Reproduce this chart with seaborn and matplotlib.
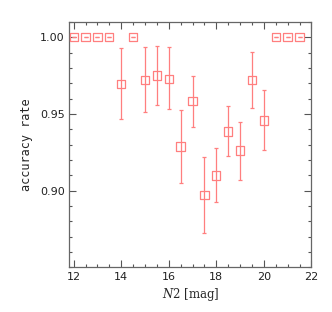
import numpy as np
import pandas as pd
import seaborn as sns
import matplotlib
matplotlib.use('Agg')
import matplotlib.pyplot as plt
from matplotlib.ticker import MultipleLocator, FixedLocator

# 数据：星等与准确率
mag = [12.0, 12.5, 13.0, 13.5, 14.0, 14.5, 15.0, 15.5, 16.0, 16.5, 17.0, 17.5,
       18.0, 18.5, 19.0, 19.5, 20.0, 20.5, 21.0, 21.5]
acc = [1.000, 1.000, 1.000, 1.000, 0.9697, 1.000, 0.9721, 0.9751, 0.9729, 0.9288, 0.9584, 0.8970,
       0.9099, 0.9385, 0.9262, 0.9721, 0.9457, 1.000, 1.000, 1.000]
err_hi = [0.0, 0.0, 0.0, 0.0, 0.9927, 0.0, 0.9933, 0.9942, 0.9933, 0.9524, 0.9749, 0.9219,
          0.9277, 0.9550, 0.9446, 0.9905, 0.9654, 0.0, 0.0, 0.0]
err_lo = [0.0, 0.0, 0.0, 0.0, 0.9468, 0.0, 0.9511, 0.9558, 0.9530, 0.9052, 0.9414, 0.8725,
          0.8927, 0.9223, 0.9071, 0.9537, 0.9262, 0.0, 0.0, 0.0]
yticks = [0.90, 0.95, 1.00]

df = pd.DataFrame({'mag': mag, 'acc': acc, 'hi': err_hi, 'lo': err_lo})
# 没有误差的点，上下限等于本身
df.loc[df['hi'] == 0, 'hi'] = df['acc']
df.loc[df['lo'] == 0, 'lo'] = df['acc']

sns.set_style('ticks')
plt.rcParams['font.family'] = ['DejaVu Sans']
plt.rcParams['mathtext.fontset'] = 'dejavuserif'

color = '#ff7f7f'

fig = plt.figure(figsize=(3.32, 3.12), dpi=100)
ax = fig.add_axes([0.209, 0.143, 0.729, 0.787])

ax.errorbar(df['mag'], df['acc'], yerr=[df['acc'] - df['lo'], df['hi'] - df['acc']],
            fmt='none', ecolor=color, elinewidth=0.9, capsize=1.5, capthick=0.9)
sns.scatterplot(data=df, x='mag', y='acc', marker='s', s=36, facecolor='none',
                edgecolor=color, linewidth=0.9, ax=ax, zorder=3)

ax.set_xlim(11.82, 22.0)
ax.set_ylim(0.85, 1.01)
ax.xaxis.set_major_locator(MultipleLocator(2))
ax.xaxis.set_minor_locator(MultipleLocator(0.5))
ax.yaxis.set_major_locator(FixedLocator(yticks))
ax.yaxis.set_minor_locator(MultipleLocator(0.01))
ax.yaxis.set_major_formatter(matplotlib.ticker.FormatStrFormatter('%.2f'))
ax.tick_params(which='both', direction='in', top=True, right=True, color='#555555',
               labelsize=8, labelcolor='#222222')
ax.tick_params(which='major', length=5, width=0.8)
ax.tick_params(which='minor', length=2.5, width=0.8)
for s in ax.spines.values():
    s.set_color('#666666')
    s.set_linewidth(0.9)

ax.set_xlabel(r'$N2$ [mag]', fontsize=8.5, family='DejaVu Serif', labelpad=3)
ax.set_ylabel('accuracy rate', fontsize=8.5, family='DejaVu Sans Mono', labelpad=5)

fig.savefig('out.png', dpi=100)
